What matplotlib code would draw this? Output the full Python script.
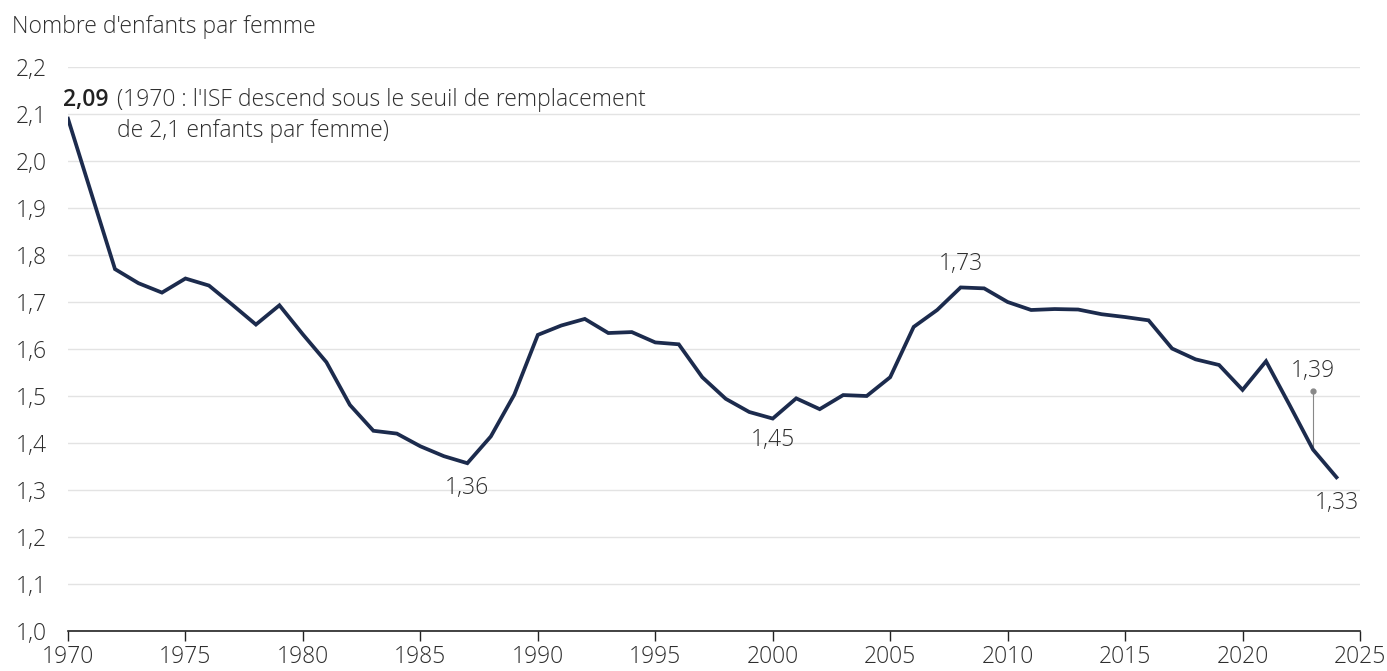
import matplotlib
matplotlib.use("Agg")
import matplotlib.pyplot as plt
from matplotlib.ticker import FuncFormatter

# ── Data ──────────────────────────────────────────────────────────────────────
years = list(range(1970, 2025))
isf = [2.09, 1.93, 1.77, 1.74, 1.72, 1.75, 1.735, 1.694, 1.652, 1.693,
       1.631, 1.572, 1.481, 1.426, 1.420, 1.393, 1.372, 1.357, 1.414, 1.503,
       1.630, 1.650, 1.664, 1.634, 1.636, 1.614, 1.610, 1.540, 1.494, 1.466,
       1.452, 1.495, 1.472, 1.502, 1.500, 1.540, 1.647, 1.683, 1.731, 1.729,
       1.700, 1.683, 1.685, 1.684, 1.674, 1.668, 1.661, 1.601, 1.578, 1.566,
       1.513, 1.574, 1.481, 1.386, 1.327]

y_ticks = [1.0, 1.1, 1.2, 1.3, 1.4, 1.5, 1.6, 1.7, 1.8, 1.9, 2.0, 2.1, 2.2]
x_ticks = list(range(1970, 2030, 5))

LINE = "#1c2b4d"
TXT = "#2e2e2e"
GRID = "#e3e3e3"
FS = 16.5

plt.rcParams["font.family"] = ["Open Sans", "DejaVu Sans"]
plt.rcParams["font.weight"] = "light"

fig = plt.figure(figsize=(13.87, 6.71), dpi=100)
ax = fig.add_axes([68 / 1387, 1 - 631 / 671, (1360 - 68) / 1387, (631 - 67) / 671])

ax.plot(years, isf, color=LINE, lw=2.7, solid_joinstyle="miter", zorder=3)

ax.set_xlim(1970, 2025)
ax.set_ylim(1.0, 2.2)
ax.set_yticks(y_ticks)
ax.set_xticks(x_ticks)
ax.yaxis.set_major_formatter(FuncFormatter(lambda v, _: f"{v:.1f}".replace(".", ",")))
ax.grid(axis="y", color=GRID, lw=1)
ax.set_axisbelow(True)
for s in ("left", "right", "top"):
    ax.spines[s].set_visible(False)
ax.spines["bottom"].set_color("#222222")
ax.spines["bottom"].set_linewidth(1.2)
ax.tick_params(axis="y", length=0, pad=15, labelsize=FS, labelcolor=TXT)
ax.tick_params(axis="x", length=7, width=1, color="#222222", pad=3,
               labelsize=FS, labelcolor=TXT)

fig.text(12 / 1387, 1 - 27 / 671, "Nombre d'enfants par femme", fontsize=FS,
         color=TXT, va="center", ha="left")

# ── Annotations ───────────────────────────────────────────────────────────────
def lab(v):
    return f"{v:.2f}".replace(".", ",")

ax.text(1970 - 0.2, 2.13, lab(isf[0]), fontsize=FS, color="#222222",
        fontweight="semibold", ha="left", va="center")
ax.text(1972.1, 2.13, "(1970 : l'ISF descend sous le seuil de remplacement",
        fontsize=FS, color=TXT, ha="left", va="center")
ax.text(1972.1, 2.064, "de 2,1 enfants par femme)",
        fontsize=FS, color=TXT, ha="left", va="center")

ax.text(1987, 1.304, "1,36", fontsize=FS, color=TXT, ha="center", va="center")
ax.text(2000, 1.406, "1,45", fontsize=FS, color=TXT, ha="center", va="center")
ax.text(2008, 1.781, "1,73", fontsize=FS, color=TXT, ha="center", va="center")

i23 = years.index(2023)
ax.plot([2023, 2023], [isf[i23], 1.51], color="#888888", lw=0.8, zorder=2)
ax.plot([2023], [1.51], marker="o", ms=3.5, color="#888888", zorder=2)
ax.text(2023, 1.553, "1,39", fontsize=FS, color=TXT, ha="center", va="center")
ax.text(2024, 1.272, "1,33", fontsize=FS, color=TXT, ha="center", va="center")

fig.savefig("out.png", dpi=100)
